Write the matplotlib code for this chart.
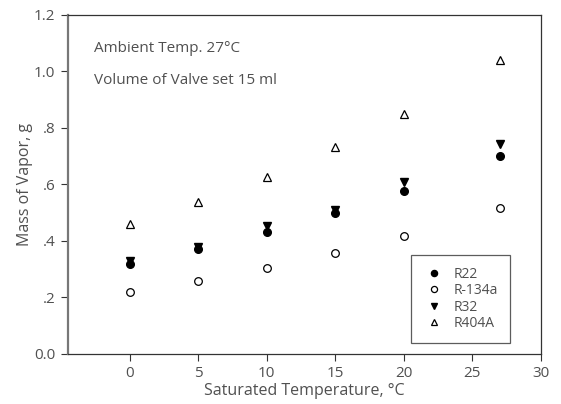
import matplotlib
matplotlib.use("Agg")
import matplotlib.pyplot as plt

plt.rcParams['font.family'] = ['Open Sans', 'DejaVu Sans']

temps = [0, 5, 10, 15, 20, 27]
r22 = [0.32, 0.372, 0.433, 0.50, 0.578, 0.70]
r134a = [0.219, 0.258, 0.304, 0.357, 0.418, 0.517]
r32 = [0.33, 0.377, 0.452, 0.51, 0.61, 0.742]
r404a = [0.46, 0.538, 0.627, 0.733, 0.850, 1.04]

yticks = [0.0, 0.2, 0.4, 0.6, 0.8, 1.0, 1.2]
ytick_labels = ['0.0', '.2', '.4', '.6', '.8', '1.0', '1.2']
xticks = [0, 5, 10, 15, 20, 25, 30]

txt = '#505050'
ms = 5.5

fig = plt.figure(figsize=(5.61, 4.04), dpi=100)
ax = fig.add_axes([0.1212, 0.1238, 0.8431, 0.8391])

ax.plot(temps, r22, 'o', color='black', markersize=ms, label='R22')
ax.plot(temps, r134a, 'o', mfc='white', mec='black', mew=0.9, markersize=ms, label='R-134a')
ax.plot(temps, r32, 'v', color='black', markersize=ms, label='R32')
ax.plot(temps, r404a, '^', mfc='white', mec='black', mew=0.9, markersize=ms, label='R404A')

ax.set_xlim(-4.5, 30)
ax.set_ylim(0, 1.2)
ax.set_xticks(xticks)
ax.set_yticks(yticks)
ax.set_yticklabels(ytick_labels)
ax.tick_params(direction='out', length=5, labelsize=11, labelcolor=txt, color='#333333', pad=4)

for side in ['top', 'right', 'bottom']:
    ax.spines[side].set_color('#333333')
    ax.spines[side].set_linewidth(0.9)
ax.spines['left'].set_color('#777777')
ax.spines['left'].set_linewidth(1.6)

ax.set_xlabel('Saturated Temperature, °C', fontsize=11.5, color=txt, labelpad=1)
ax.set_ylabel('Mass of Vapor, g', fontsize=11.5, color=txt, labelpad=1)

ax.text(0.055, 0.89, 'Ambient Temp. 27°C', transform=ax.transAxes, fontsize=11, color=txt)
ax.text(0.055, 0.795, 'Volume of Valve set 15 ml', transform=ax.transAxes, fontsize=11, color=txt)

leg = ax.legend(loc='lower right', bbox_to_anchor=(0.934, 0.033), fontsize=10,
                frameon=True, fancybox=False, handletextpad=0.6, handlelength=1.6,
                labelspacing=0.1, borderpad=0.85, borderaxespad=0, markerscale=0.8,
                labelcolor=txt)
leg.get_frame().set_edgecolor('#333333')
leg.get_frame().set_linewidth(0.9)

fig.savefig('out.png', dpi=100)
